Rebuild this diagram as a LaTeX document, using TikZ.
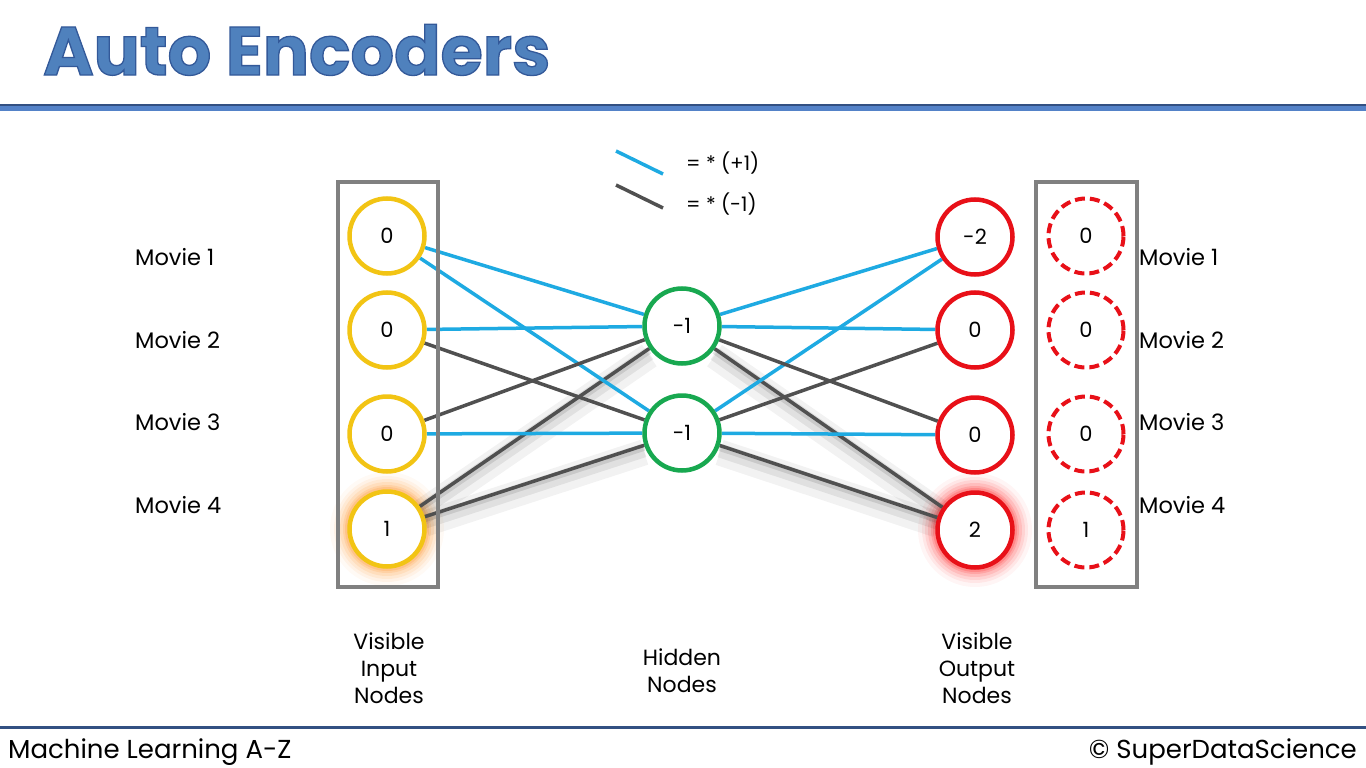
\documentclass[tikz,border=0pt]{standalone}
\usepackage{fontspec}
\setmainfont{Poppins}
\usetikzlibrary{calc}
\definecolor{titleblue}{RGB}{79,129,189}
\definecolor{ruleblue}{RGB}{84,130,200}
\definecolor{ruledark}{RGB}{50,80,130}
\definecolor{bline}{RGB}{30,170,226}
\definecolor{gline}{RGB}{80,80,80}
\definecolor{boxgray}{RGB}{128,128,128}
\definecolor{inyellow}{RGB}{242,196,20}
\definecolor{hgreen}{RGB}{24,168,80}
\definecolor{ored}{RGB}{232,16,24}
\pgfdeclarelayer{paper}
\pgfdeclarelayer{glow}
\pgfdeclarelayer{bg}
\pgfsetlayers{paper,glow,bg,main}
\tikzset{
  lbl/.style={font=\fontsize{22.5}{26}\selectfont, inner sep=0pt},
  captext/.style={font=\fontsize{22}{27}\selectfont, align=center, inner sep=0pt},
  neuron/.style={circle, minimum size=75pt, line width=4.5pt, fill=white, inner sep=0pt, font=\fontsize{21}{24}\selectfont},
  inn/.style={neuron, draw=inyellow},
  hid/.style={neuron, draw=hgreen},
  outn/.style={neuron, draw=ored},
  recon/.style={neuron, draw=ored, line width=4pt, dash pattern=on 10pt off 5pt},
  colbox/.style={draw=boxgray, line width=3.5pt},
  poslink/.style={draw=bline, line width=3.5pt},
  neglink/.style={draw=gline, line width=3.5pt},
  shad/.style={preaction={draw=black, opacity=0.05, line width=26pt, transform canvas={yshift=-7pt}},
               preaction={draw=black, opacity=0.07, line width=14pt, transform canvas={yshift=-5pt}},
               preaction={draw=black, opacity=0.10, line width=7pt, transform canvas={yshift=-2pt}}},
}
\begin{document}
\begin{tikzpicture}[x=1pt, y=-1pt]
\begin{pgfonlayer}{paper}
\fill[white] (0,0) rectangle (1366,768);
\end{pgfonlayer}
\useasboundingbox (0,0) rectangle (1366,768);
% title
\node[anchor=base west, inner sep=0pt, text=titleblue, font=\fontsize{68.5}{72}\selectfont\bfseries] (title) at (43,75)
  {\special{pdf:code q 2 Tr 1.3 w 0.2 0.35 0.6 RG}Auto Encoders\special{pdf:code Q}};
% rules
\fill[ruledark] (0,104) rectangle (1366,106);
\fill[ruleblue] (0,106) rectangle (1366,111);
\fill[ruledark] (0,726) rectangle (1366,728.5);
% footer
\node[anchor=base west, inner sep=0pt, font=\fontsize{26}{30}\selectfont] (foot1) at (8,758) {Machine Learning A-Z};
\node[anchor=base east, inner sep=0pt, font=\fontsize{26}{30}\selectfont] (foot2) at (1357,758) {© SuperDataScience};
% legend
\coordinate (lp1) at (616,151); \coordinate (lp2) at (663,174);
\coordinate (ln1) at (616,185); \coordinate (ln2) at (663,208);
\draw[poslink] (lp1) -- (lp2);
\draw[neglink] (ln1) -- (ln2);
\node[anchor=base west, inner sep=0pt, font=\fontsize{20}{24}\selectfont] (legp) at (686,170) {= * (+1)};
\node[anchor=base west, inner sep=0pt, font=\fontsize{20}{24}\selectfont] (legn) at (686,211) {= * (-1)};
% boxes
\draw[colbox] (338,182) rectangle (438,587);
\draw[colbox] (1036,182) rectangle (1137,587);
% glows
\begin{pgfonlayer}{glow}
\foreach \r/\o in {57/0.04,53/0.06,50/0.08,47/0.10,44/0.13,42/0.16}{
  \fill[orange, opacity=\o] (387,529) circle (\r);
  \fill[red, opacity=\o] (975,530) circle (\r);
}
\end{pgfonlayer}
% nodes
\node[inn] (i1) at (387,236) {0};
\node[inn] (i2) at (387,330) {0};
\node[inn] (i3) at (387,434) {0};
\node[inn] (i4) at (387,529) {1};
\node[hid] (h1) at (682,326) {-1};
\node[hid] (h2) at (682,433) {-1};
\node[outn] (o1) at (975,237) {-2};
\node[outn] (o2) at (975,330) {0};
\node[outn] (o3) at (975,435) {0};
\node[outn] (o4) at (975,530) {2};
\node[recon] (r1) at (1086,236) {0};
\node[recon] (r2) at (1086,330) {0};
\node[recon] (r3) at (1086,434) {0};
\node[recon] (r4) at (1086,530) {1};
% edges
\begin{pgfonlayer}{bg}
\draw[neglink, shad] (i4) -- (h1);
\draw[neglink, shad] (i4) -- (h2);
\draw[neglink, shad] (h1) -- (o4);
\draw[neglink, shad] (h2) -- (o4);
\draw[poslink] (i1) -- (h1);
\draw[poslink] (i1) -- (h2);
\draw[poslink] (i2) -- (h1);
\draw[neglink] (i2) -- (h2);
\draw[neglink] (i3) -- (h1);
\draw[poslink] (i3) -- (h2);
\draw[poslink] (h1) -- (o1);
\draw[poslink] (h2) -- (o1);
\draw[poslink] (h1) -- (o2);
\draw[neglink] (h2) -- (o2);
\draw[neglink] (h1) -- (o3);
\draw[poslink] (h2) -- (o3);
\end{pgfonlayer}
% labels
\node[lbl, anchor=base west] (ml1) at (135,265) {Movie 1};
\node[lbl, anchor=base west] (ml2) at (135,348) {Movie 2};
\node[lbl, anchor=base west] (ml3) at (135,430) {Movie 3};
\node[lbl, anchor=base west] (ml4) at (135,513) {Movie 4};
\node[lbl, anchor=base west] (mr1) at (1139,265) {Movie 1};
\node[lbl, anchor=base west] (mr2) at (1139,348) {Movie 2};
\node[lbl, anchor=base west] (mr3) at (1139,430) {Movie 3};
\node[lbl, anchor=base west] (mr4) at (1139,513) {Movie 4};
\node[captext, anchor=base] (c1) at (389,703) {Visible\\Input\\Nodes};
\node[captext, anchor=base] (c2) at (682,692) {Hidden\\Nodes};
\node[captext, anchor=base] (c3) at (977,703) {Visible\\Output\\Nodes};
\end{tikzpicture}
\end{document}
